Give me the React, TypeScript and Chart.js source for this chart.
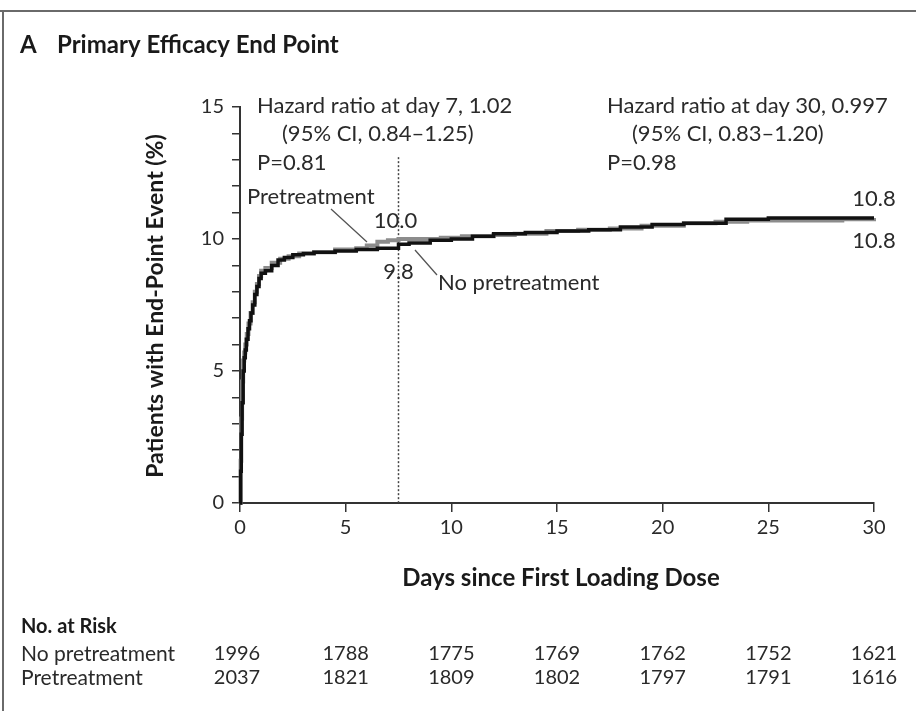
import React, { useEffect, useRef } from "react";
import { Chart, registerables } from "chart.js";

Chart.register(...registerables);

// Kaplan-Meier style cumulative event curves (percent of patients)
const noPretreatmentDays = [0, 0.03, 0.06, 0.1, 0.15, 0.2, 0.25, 0.3, 0.38, 0.45, 0.52, 0.6, 0.7, 0.8, 0.9, 1.0, 1.2, 1.5, 1.8, 2.1, 2.5, 3.0, 3.5, 4.5, 5.5, 6.5, 7.5, 8.0, 9.0, 10.0, 11.0, 12.0, 13.5, 15.0, 16.5, 18.0, 19.5, 21.0, 23.0, 25.0, 27.0, 30.0];
const noPretreatmentPct = [0, 1.2, 2.6, 3.8, 5.0, 5.5, 5.8, 6.2, 6.6, 6.9, 7.2, 7.5, 7.9, 8.2, 8.5, 8.7, 8.8, 9.0, 9.2, 9.3, 9.4, 9.45, 9.5, 9.55, 9.6, 9.65, 9.8, 9.85, 9.95, 10.0, 10.1, 10.2, 10.25, 10.3, 10.35, 10.45, 10.55, 10.6, 10.75, 10.8, 10.8, 10.8];

const pretreatmentDays = [0, 0.03, 0.06, 0.1, 0.15, 0.2, 0.25, 0.32, 0.4, 0.5, 0.6, 0.7, 0.8, 0.9, 1.0, 1.2, 1.5, 1.9, 2.3, 2.8, 3.5, 4.5, 5.5, 6.0, 6.5, 7.0, 7.5, 8.5, 9.5, 10.5, 12.0, 13.0, 14.5, 16.0, 17.5, 19.0, 21.0, 22.5, 24.0, 26.0, 28.5, 30.0];
const pretreatmentPct = [0, 1.6, 3.2, 4.6, 5.4, 5.7, 6.0, 6.4, 6.8, 7.2, 7.6, 8.0, 8.3, 8.6, 8.8, 8.9, 9.1, 9.25, 9.35, 9.45, 9.5, 9.6, 9.65, 9.75, 9.9, 9.95, 10.0, 10.0, 10.05, 10.1, 10.15, 10.2, 10.3, 10.35, 10.4, 10.5, 10.6, 10.65, 10.7, 10.7, 10.75, 10.8];

// Number at risk table
const riskDays = [0, 5, 10, 15, 20, 25, 30];
const riskNoPretreatment = [1996, 1788, 1775, 1769, 1762, 1752, 1621];
const riskPretreatment = [2037, 1821, 1809, 1802, 1797, 1791, 1616];

// Landmark and labelled values
const landmarkDay = 7.5;
const landmarkNoPre = 9.8;
const landmarkPre = 10.0;
const finalNoPre = 10.8;
const finalPre = 10.8;

const hazardLeft = ["Hazard ratio at day 7, 1.02", "(95% CI, 0.84\u20131.25)", "P=0.81"];
const hazardRight = ["Hazard ratio at day 30, 0.997", "(95% CI, 0.83\u20131.20)", "P=0.98"];

const FONT = "Lato, 'Open Sans', sans-serif";
const TEXT = "#2a2a2a";

const toXY = (xs: number[], ys: number[]) => xs.map((x, i) => ({ x, y: ys[i] }));

const overlay = {
  id: "kmOverlay",
  beforeDatasetsDraw(chart: any) {
    const { ctx, scales } = chart;
    const x = scales.x;
    const y = scales.y;
    const lx = x.getPixelForValue(landmarkDay);
    ctx.save();
    ctx.strokeStyle = "#444";
    ctx.lineWidth = 1.5;
    ctx.setLineDash([2, 2]);
    ctx.beginPath();
    ctx.moveTo(lx, y.getPixelForValue(13.1));
    ctx.lineTo(lx, y.getPixelForValue(0));
    ctx.stroke();
    ctx.restore();
  },
  afterDraw(chart: any) {
    const { ctx, scales } = chart;
    const x = scales.x;
    const y = scales.y;
    ctx.save();

    // panel frame
    ctx.strokeStyle = "#6a6a6a";
    ctx.lineWidth = 2;
    ctx.beginPath();
    ctx.moveTo(0, 11);
    ctx.lineTo(916, 11);
    ctx.moveTo(3, 11);
    ctx.lineTo(3, 711);
    ctx.stroke();

    ctx.fillStyle = "#1a1a1a";
    ctx.textBaseline = "middle";
    ctx.textAlign = "left";
    ctx.font = `bold 24px ${FONT}`;
    ctx.fillText("A", 20, 45);
    ctx.fillText("Primary Efficacy End Point", 57, 45);

    // axis titles
    ctx.font = `bold 24px ${FONT}`;
    ctx.textAlign = "center";
    ctx.fillText("Days since First Loading Dose", 561, 578);
    ctx.save();
    ctx.translate(156, 306);
    ctx.rotate(-Math.PI / 2);
    ctx.font = `bold 23px ${FONT}`;
    ctx.fillText("Patients with End-Point Event (%)", 0, 0);
    ctx.restore();

    // hazard ratio annotations
    ctx.fillStyle = TEXT;
    ctx.font = `22px ${FONT}`;
    ctx.textAlign = "left";
    const lineYs = [106, 134, 163];
    const indents = [0, 25, 0];
    hazardLeft.forEach((t, i) => ctx.fillText(t, 257 + indents[i], lineYs[i]));
    hazardRight.forEach((t, i) => ctx.fillText(t, 607 + indents[i], lineYs[i]));

    // curve labels and leader lines
    const lx = x.getPixelForValue(landmarkDay);
    ctx.fillText("Pretreatment", 247, 197);
    ctx.fillText("No pretreatment", 438, 283);
    ctx.textAlign = "center";
    ctx.fillText(landmarkPre.toFixed(1), lx - 3, y.getPixelForValue(landmarkPre) - 18);
    ctx.fillText(landmarkNoPre.toFixed(1), lx, y.getPixelForValue(landmarkNoPre) + 28);
    const ex = x.getPixelForValue(30);
    ctx.fillText(finalPre.toFixed(1), ex, y.getPixelForValue(finalPre) - 19);
    ctx.fillText(finalNoPre.toFixed(1), ex, y.getPixelForValue(finalNoPre) + 23);

    ctx.strokeStyle = "#555";
    ctx.lineWidth = 1.3;
    ctx.beginPath();
    ctx.moveTo(331, 209);
    ctx.lineTo(367, 242);
    ctx.moveTo(415, 250);
    ctx.lineTo(437, 275);
    ctx.stroke();

    // number at risk
    ctx.fillStyle = "#1a1a1a";
    ctx.textAlign = "left";
    ctx.font = `bold 20px ${FONT}`;
    ctx.fillText("No. at Risk", 21, 627);
    ctx.fillStyle = TEXT;
    ctx.font = `21px ${FONT}`;
    ctx.fillText("No pretreatment", 21, 654);
    ctx.fillText("Pretreatment", 21, 678);
    ctx.font = `20px ${FONT}`;
    ctx.textAlign = "center";
    riskDays.forEach((d, i) => {
      const px = x.getPixelForValue(d) - (i === 0 ? 3 : 0);
      ctx.fillText(String(riskNoPretreatment[i]), px, 654);
      ctx.fillText(String(riskPretreatment[i]), px, 678);
    });

    ctx.restore();
  },
};

export default function App() {
  const canvasRef = useRef<HTMLCanvasElement | null>(null);

  useEffect(() => {
    document.body.style.margin = "0";
    const canvas = canvasRef.current;
    if (!canvas) return;
    const chart = new Chart(canvas, {
      type: "line",
      data: {
        datasets: [
          {
            label: "No pretreatment",
            data: toXY(noPretreatmentDays, noPretreatmentPct),
            borderColor: "#111",
            borderWidth: 3.5,
            stepped: "before",
            pointRadius: 0,
            fill: false,
            clip: 6,
          },
          {
            label: "Pretreatment",
            data: toXY(pretreatmentDays, pretreatmentPct),
            borderColor: "#8c8c8c",
            borderWidth: 4,
            stepped: "before",
            pointRadius: 0,
            fill: false,
            clip: 6,
          },
        ],
      },
      options: {
        responsive: false,
        animation: false,
        layout: { padding: { left: 0, top: 107, right: 42, bottom: 0 } },
        plugins: { legend: { display: false }, tooltip: { enabled: false } },
        scales: {
          x: {
            type: "linear",
            min: 0,
            max: 30,
            afterFit: (s: any) => {
              s.height = 208;
            },
            border: { display: true, color: "#333", width: 2 },
            grid: { drawOnChartArea: false, tickLength: 9, color: "#333", lineWidth: 1.5 },
            ticks: {
              stepSize: 5,
              padding: 4,
              color: TEXT,
              font: { family: FONT, size: 20 },
              maxRotation: 0,
            },
          },
          y: {
            min: 0,
            max: 15,
            afterFit: (s: any) => {
              s.width = 240;
            },
            border: { display: true, color: "#333", width: 2 },
            grid: { drawOnChartArea: false, tickLength: 8, color: "#333", lineWidth: 1.5 },
            ticks: {
              stepSize: 1,
              padding: 8,
              color: TEXT,
              font: { family: FONT, size: 20 },
              autoSkip: false,
              callback: (v: any) => (Number(v) % 5 === 0 ? String(v) : ""),
            },
          },
        },
      },
      plugins: [overlay],
    });
    return () => chart.destroy();
  }, []);

  return (
    <div style={{ position: "absolute", left: 0, top: 0, width: 916, height: 711, background: "#fff" }}>
      <canvas ref={canvasRef} width={916} height={711} style={{ width: 916, height: 711, display: "block" }} />
    </div>
  );
}
